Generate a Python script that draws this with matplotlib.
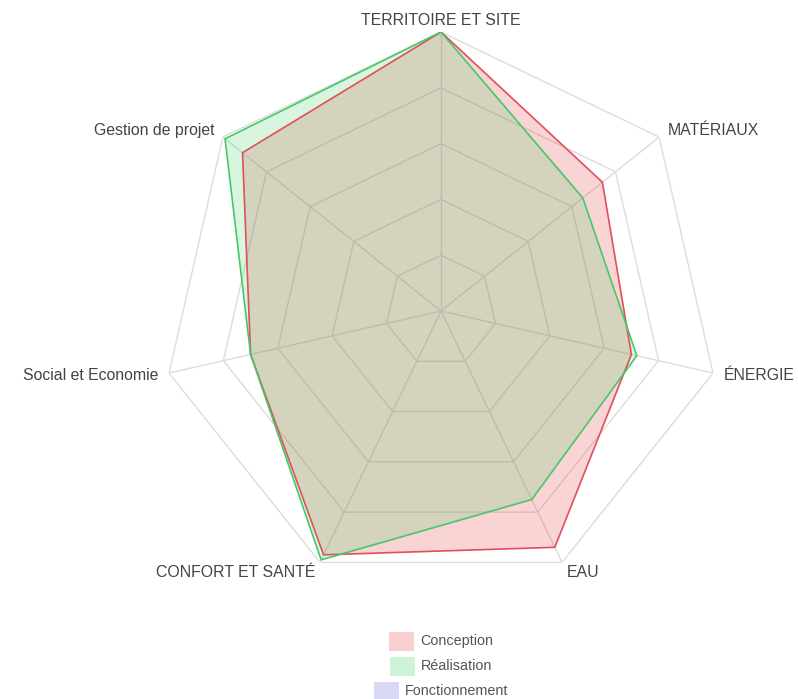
import numpy as np
import matplotlib
matplotlib.use("Agg")
import matplotlib.pyplot as plt
from matplotlib.patches import Rectangle

categories = ["TERRITOIRE ET SITE", "MATÉRIAUX", "ÉNERGIE", "EAU",
              "CONFORT ET SANTÉ", "Social et Economie", "Gestion de projet"]
conception = [100, 74, 70, 94, 97, 70, 91]
realisation = [100, 65, 72, 75, 99, 70, 99]
fonctionnement = []
series_names = ["Conception", "Réalisation", "Fonctionnement"]
ring_ticks = [20, 40, 60, 80, 100]

line_colors = ["#e0505a", "#46c86a", "#6a6ae0"]
fill_colors = [(0.90, 0.24, 0.26, 0.22), (0.24, 0.82, 0.40, 0.20), (0.40, 0.40, 0.85, 0.25)]

plt.rcParams['font.family'] = ['Liberation Sans', 'DejaVu Sans']

W, H = 798, 699
fig = plt.figure(figsize=(W / 100, H / 100), dpi=100)
cx, cy, R = 441, 311, 279
ax = fig.add_axes([(cx - R) / W, 1 - (cy + R) / H, 2 * R / W, 2 * R / H], projection='polar')
ax.set_theta_offset(np.pi / 2)
ax.set_theta_direction(-1)
ax.set_ylim(0, 100)
ax.grid(False)
ax.set_xticks([])
ax.set_yticks([])
ax.spines['polar'].set_visible(False)
ax.patch.set_alpha(0)

n = len(categories)
theta = np.arange(n) * 2 * np.pi / n
theta_c = np.append(theta, theta[0])

grid_col = "#dcdcdc"
for t in ring_ticks:
    ax.plot(theta_c, [t] * (n + 1), color=grid_col, lw=1.0, zorder=1)
for th in theta:
    ax.plot([th, th], [0, ring_ticks[-1]], color=grid_col, lw=1.0, zorder=1)

for i, vals in enumerate([conception, realisation, fonctionnement]):
    if len(vals) == 0:
        continue
    v = np.append(vals, vals[0])
    ax.fill(theta_c, v, color=fill_colors[i], zorder=2, lw=0)
    ax.plot(theta_c, v, color=line_colors[i], lw=1.2, zorder=3)

for th, lab in zip(theta, categories):
    s = np.sin(th)
    if abs(s) < 1e-6:
        ha = 'center'
    elif s > 0:
        ha = 'left'
    else:
        ha = 'right'
    ax.text(th, 104, lab, ha=ha, va='center', fontsize=11.4, color='#444444', zorder=5)

# legend (centered rows)
row_y = [641, 666, 691]
box_w, box_h = 25, 19
for i, name in enumerate(series_names):
    t = fig.text(0, 0, name, fontsize=10.4, color='#555555', va='center', ha='left')
    fig.canvas.draw()
    bb = t.get_window_extent()
    tw = bb.width
    total = box_w + 6 + tw
    x0 = 441 - total / 2
    y = row_y[i]
    fc = list(fill_colors[i])
    fc[3] = 0.25
    fig.patches.append(Rectangle((x0 / W, 1 - (y + box_h / 2) / H), box_w / W, box_h / H,
                                 transform=fig.transFigure, facecolor=fc, edgecolor='none'))
    t.set_position(((x0 + box_w + 6) / W, 1 - y / H))

fig.savefig("out.png", dpi=100)
